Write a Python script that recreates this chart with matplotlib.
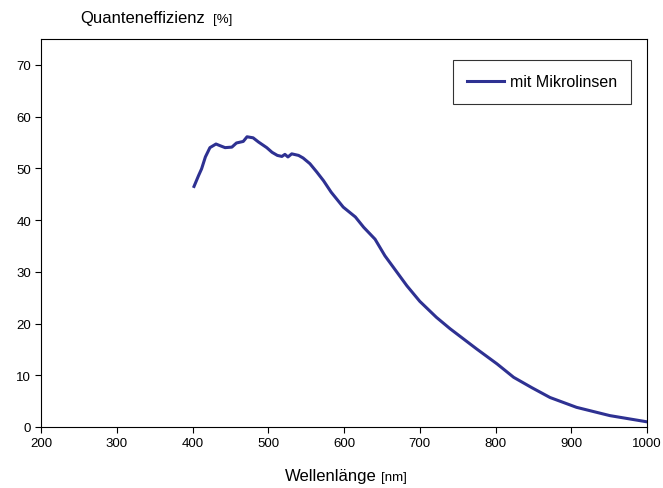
import matplotlib
matplotlib.use("Agg")
import matplotlib.pyplot as plt

# Quanteneffizienz mit Mikrolinsen
wellenlaenge = [402, 408, 412, 417, 423, 431, 436, 443, 452, 458, 467, 472, 480,
                487, 498, 505, 512, 518, 522, 526, 531, 540, 546, 555, 564, 573,
                583, 599, 615, 626, 641, 654, 670, 683, 700, 722, 740, 775, 802,
                824, 848, 872, 907, 951, 1000]
qe = [46.5, 48.6, 49.9, 52.2, 54.0, 54.7, 54.4, 54.0, 54.1, 54.9, 55.2, 56.1, 55.9,
      55.1, 54.0, 53.1, 52.5, 52.3, 52.7, 52.2, 52.8, 52.5, 52.0, 50.9, 49.3, 47.6,
      45.4, 42.5, 40.6, 38.6, 36.3, 33.1, 29.9, 27.3, 24.3, 21.2, 19.0, 15.1, 12.2,
      9.6, 7.6, 5.7, 3.8, 2.2, 1.0]

x_ticks = list(range(200, 1001, 100))
y_ticks = list(range(0, 71, 10))

plt.rcParams['font.family'] = ['Liberation Sans', 'DejaVu Sans']

fig = plt.figure(figsize=(6.63, 4.89), dpi=100)
ax = fig.add_axes([41 / 663, 61 / 489, 606 / 663, 388 / 489])

ax.plot(wellenlaenge, qe, color='#2e3192', lw=2.2, label='mit Mikrolinsen')

ax.set_xlim(200, 1000)
ax.set_ylim(0, 75)
ax.set_xticks(x_ticks)
ax.set_yticks(y_ticks)
ax.tick_params(direction='out', length=4, width=0.8, labelsize=9.5, pad=3)
for s in ax.spines.values():
    s.set_linewidth(0.8)

# Achsentitel mit Einheit in kleinerer Schrift
t1 = fig.text(80 / 663, 1 - 18 / 489, 'Quanteneffizienz', fontsize=12, va='center')
ax.annotate('[%]', xy=(1, 0), xycoords=t1, xytext=(6, 0), textcoords='offset points',
            fontsize=9.5, va='bottom', ha='left')
t2 = fig.text(285 / 663, 1 - 477 / 489, 'Wellenlänge', fontsize=12, va='center')
ax.annotate('[nm]', xy=(1, 0), xycoords=t2, xytext=(3, 0), textcoords='offset points',
            fontsize=9.5, va='bottom', ha='left')

leg = ax.legend(loc='upper right', bbox_to_anchor=(590 / 606, 367 / 388), frameon=True,
                fancybox=False, edgecolor='black', handlelength=2.3, handletextpad=0.35,
                borderpad=0.9, borderaxespad=0, prop={'size': 11.5})
leg.get_frame().set_linewidth(0.8)

fig.savefig('out.png', dpi=100)
